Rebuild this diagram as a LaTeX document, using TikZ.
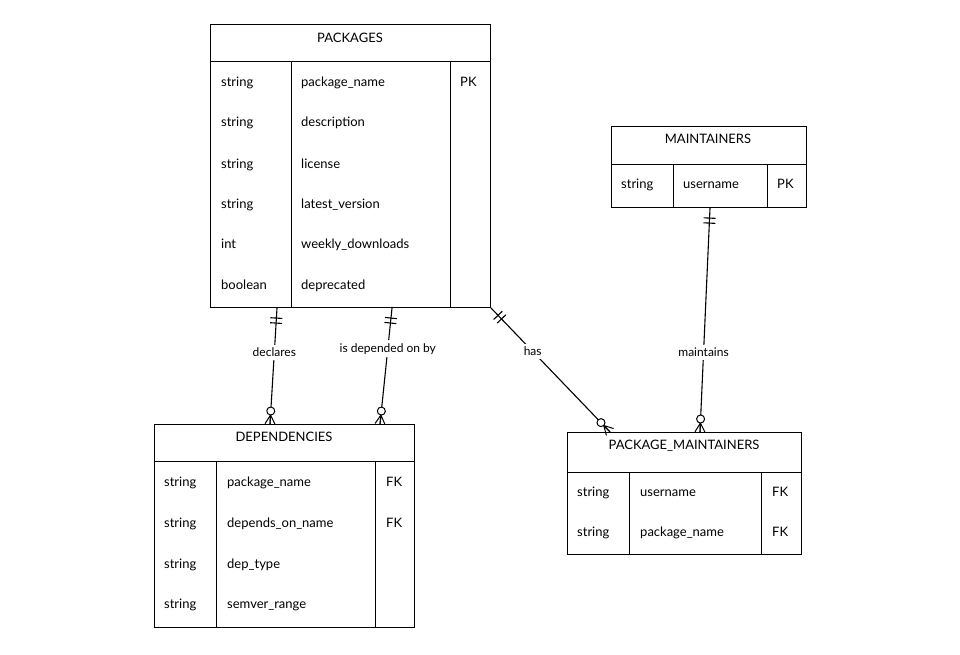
\documentclass[tikz,border=0pt]{standalone}
\usepackage{fontspec}
\setmainfont{Lato}
\usetikzlibrary{decorations.markings,calc}
\begin{document}
\begin{tikzpicture}[x=1pt,y=-1pt,
  box/.style={draw,line width=1.1pt,rectangle,inner sep=0,anchor=north west},
  tx/.style={font=\fontsize{13}{15}\selectfont,anchor=base west,inner sep=0,yshift=-5pt},
  hd/.style={font=\fontsize{13}{15}\selectfont,inner sep=0},
  lab/.style={font=\fontsize{12}{14}\selectfont,fill=white,inner sep=3pt},
  rel/.style={line width=1.1pt,postaction={decorate},decoration={markings,
    mark=at position 10pt with {\draw[line width=1.1pt] (0,-6pt)--(0,6pt) (5pt,-6pt)--(5pt,6pt);},
    mark=at position 1 with {\draw[line width=1pt] (-9pt,0)--(0,-5pt) (-9pt,0)--(0,0) (-9pt,0)--(0,5pt);
       \draw[line width=1pt,fill=white] (-13pt,0) circle (4pt);}}}]
\useasboundingbox (0,0) rectangle (960,655);
% PACKAGES
\node[box,minimum width=280,minimum height=283] (pk) at (210,24) {};
\node[hd] (pkh) at (350,38) {PACKAGES};
\draw[line width=1pt] (210,62)--(490,62) (291,62)--(291,307) (450,62)--(450,307);
\foreach \t/\n/\y [count=\i] in {string/package\_name/82,string/description/122,string/license/163,string/latest\_version/203,int/weekly\_downloads/243,boolean/deprecated/284}{
  \node[tx] (pkt\i) at (221,\y) {\t};
  \node[tx] (pkn\i) at (301,\y) {\n};}
\node[tx] (pkk) at (460,82) {PK};
% MAINTAINERS
\node[box,minimum width=195,minimum height=81] (mt) at (611,126) {};
\node[hd] (mth) at (708,139) {MAINTAINERS};
\draw[line width=1pt] (611,165)--(806,165) (673,165)--(673,207) (767,165)--(767,207);
\node[tx] (mt1) at (621,184) {string};
\node[tx] (mt2) at (683,184) {username};
\node[tx] (mt3) at (777,184) {PK};
% DEPENDENCIES
\node[box,minimum width=260,minimum height=203] (dp) at (154,424) {};
\node[hd] (dph) at (284,437) {DEPENDENCIES};
\draw[line width=1pt] (154,461)--(414,461) (216,461)--(216,627) (375,461)--(375,627);
\foreach \n/\y [count=\i] in {package\_name/481,depends\_on\_name/522,dep\_type/563,semver\_range/603}{
  \node[tx] (dpt\i) at (164,\y) {string};
  \node[tx] (dpn\i) at (227,\y) {\n};}
\node[tx] (dpk1) at (386,481) {FK};
\node[tx] (dpk2) at (386,522) {FK};
% PACKAGE_MAINTAINERS
\node[box,minimum width=234,minimum height=122] (pm) at (567,432) {};
\node[hd] (pmh) at (684,446) {PACKAGE\_MAINTAINERS};
\draw[line width=1pt] (567,472)--(801,472) (629,472)--(629,554) (761,472)--(761,554);
\node[tx] (pm1) at (577,491) {string};
\node[tx] (pm2) at (640,491) {username};
\node[tx] (pm3) at (772,491) {FK};
\node[tx] (pm4) at (577,531) {string};
\node[tx] (pm5) at (640,531) {package\_name};
\node[tx] (pm6) at (772,531) {FK};
% relations
\draw[rel] ($(pk.south west)+(67,0)$) -- node[lab,pos=0.38] (l1) {declares} ($(dp.north west)+(116,0)$);
\draw[rel] ($(pk.south west)+(182,0)$) -- node[lab,pos=0.35] (l2) {is depended on by} ($(dp.north west)+(226,0)$);
\draw[rel] (pk.south east) -- node[lab,pos=0.35] (l3) {has} ($(pm.north west)+(43,0)$);
\draw[rel] ($(mt.south west)+(99,0)$) -- node[lab,pos=0.645] (l4) {maintains} ($(pm.north west)+(133,0)$);
\end{tikzpicture}
\end{document}
